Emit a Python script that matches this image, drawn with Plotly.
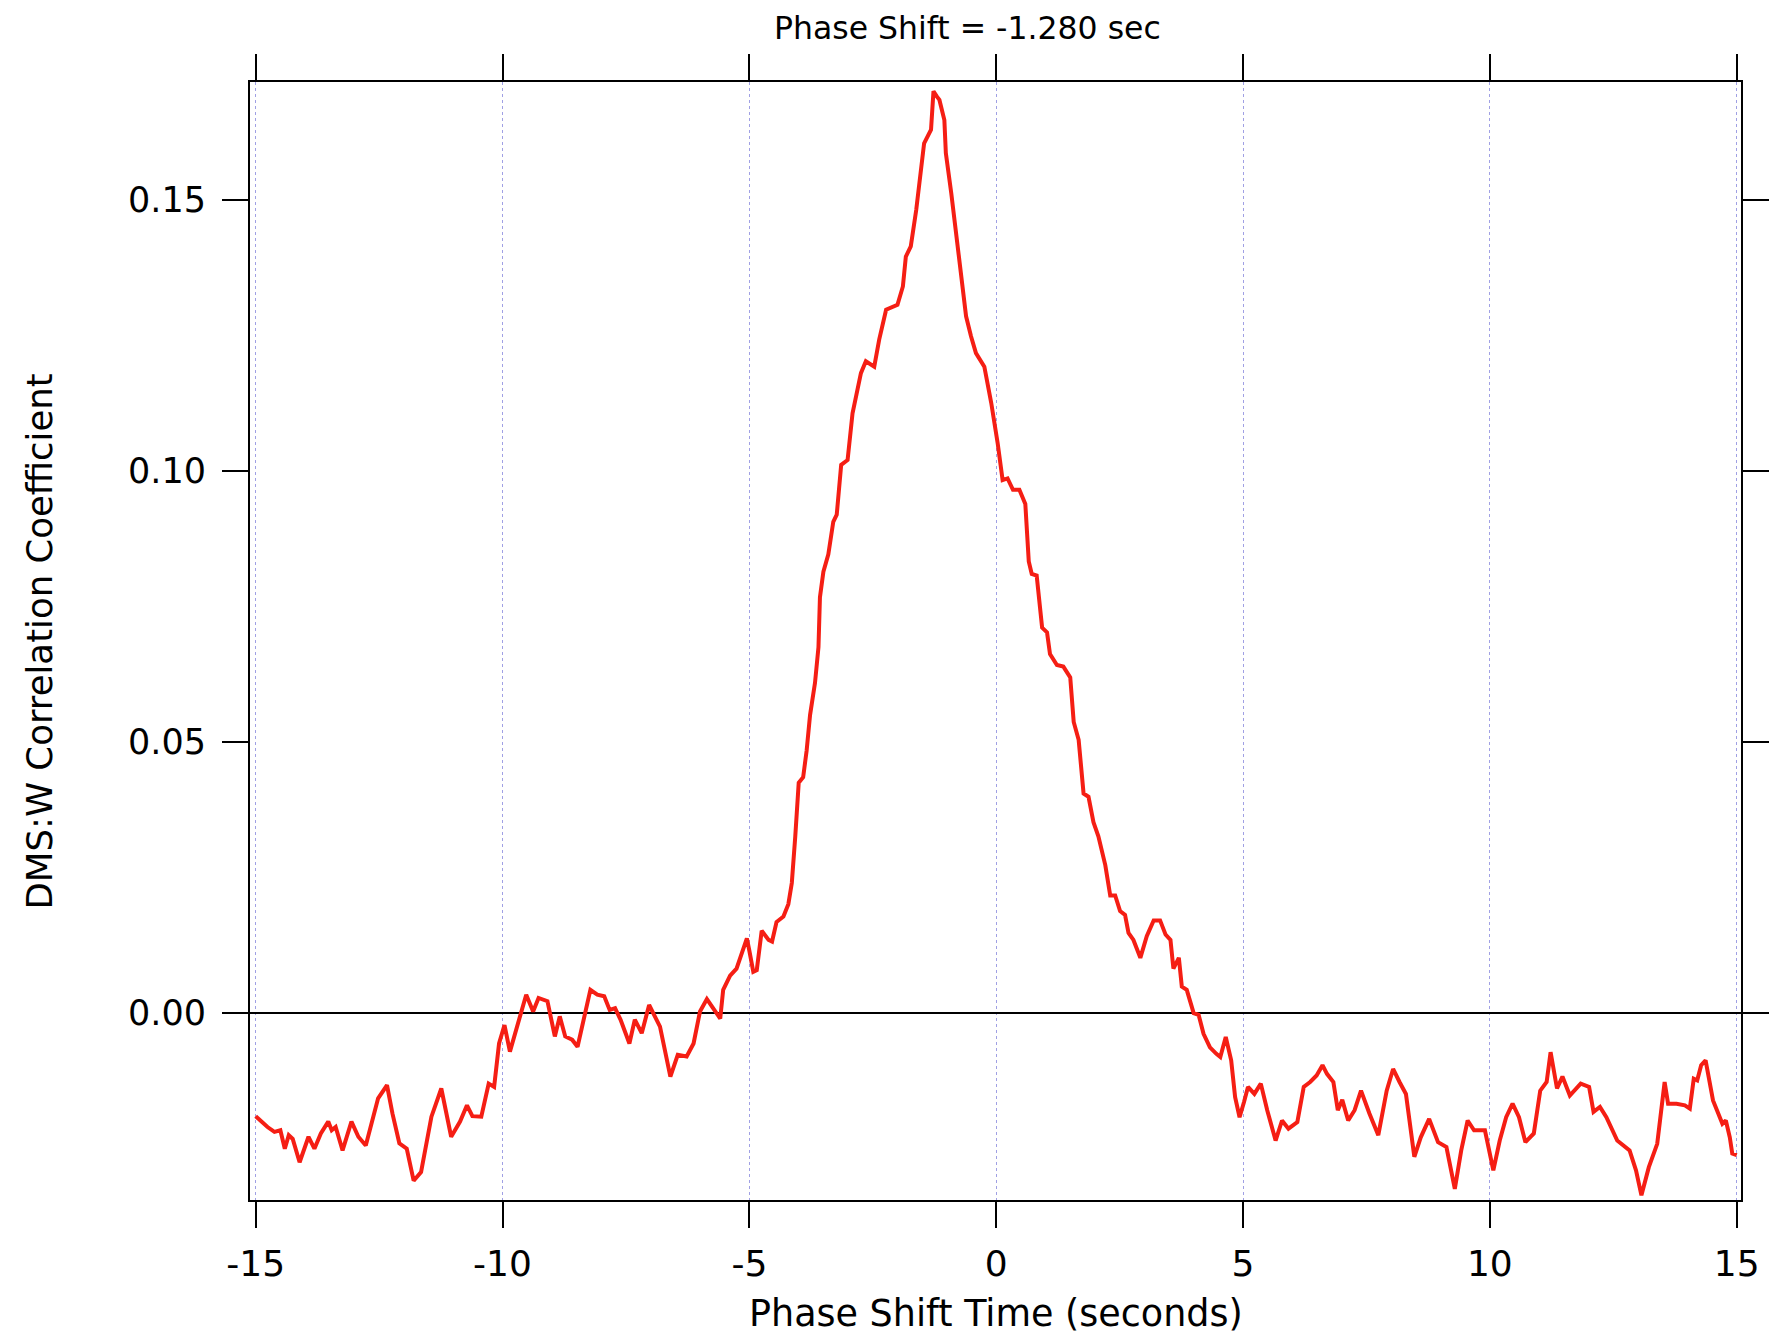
import plotly.graph_objects as go

# Phase shift time (seconds)
phase_shift = [
    -15.00, -14.76, -14.62, -14.50, -14.41, -14.33, -14.25, -14.11, -13.93, -13.81,
    -13.68, -13.53, -13.46, -13.38, -13.24, -13.06, -12.92, -12.77, -12.52, -12.34,
    -12.23, -12.09, -11.94, -11.80, -11.65, -11.44, -11.24, -11.04, -10.86, -10.72,
    -10.61, -10.43, -10.28, -10.17, -10.07, -9.96, -9.85, -9.70, -9.52, -9.38,
    -9.27, -9.09, -8.94, -8.84, -8.73, -8.59, -8.48, -8.22, -8.08, -7.94,
    -7.83, -7.72, -7.61, -7.43, -7.32, -7.18, -7.03, -6.81, -6.60, -6.45,
    -6.27, -6.13, -6.00, -5.86, -5.73, -5.59, -5.53, -5.39, -5.26, -5.16,
    -5.05, -5.00, -4.92, -4.85, -4.75, -4.61, -4.54, -4.45, -4.31, -4.21,
    -4.14, -4.07, -4.00, -3.91, -3.84, -3.77, -3.67, -3.60, -3.57, -3.50,
    -3.40, -3.30, -3.23, -3.14, -3.01, -2.91, -2.74, -2.64, -2.47, -2.37,
    -2.23, -2.00, -1.89, -1.83, -1.73, -1.62, -1.52, -1.46, -1.32, -1.27,
    -1.20, -1.15, -1.05, -1.02, -0.91, -0.78, -0.71, -0.61, -0.51, -0.41,
    -0.24, -0.10, 0.03, 0.13, 0.23, 0.34, 0.47, 0.59, 0.66, 0.72,
    0.82, 0.93, 1.03, 1.09, 1.23, 1.36, 1.50, 1.57, 1.67, 1.77,
    1.87, 1.97, 2.07, 2.21, 2.31, 2.41, 2.51, 2.61, 2.68, 2.78,
    2.92, 3.05, 3.19, 3.32, 3.43, 3.53, 3.59, 3.70, 3.76, 3.86,
    4.00, 4.10, 4.20, 4.33, 4.46, 4.54, 4.65, 4.76, 4.84, 4.93,
    5.02, 5.10, 5.23, 5.36, 5.49, 5.66, 5.79, 5.92, 6.10, 6.23,
    6.36, 6.49, 6.61, 6.70, 6.83, 6.92, 7.01, 7.13, 7.26, 7.39,
    7.56, 7.74, 7.91, 8.04, 8.17, 8.30, 8.47, 8.60, 8.77, 8.95,
    9.12, 9.29, 9.42, 9.55, 9.68, 9.90, 10.07, 10.20, 10.33, 10.46,
    10.59, 10.72, 10.89, 11.02, 11.15, 11.23, 11.36, 11.47, 11.62, 11.84,
    12.01, 12.10, 12.23, 12.36, 12.58, 12.83, 12.96, 13.07, 13.22, 13.39,
    13.54, 13.61, 13.78, 13.95, 14.05, 14.13, 14.20, 14.28, 14.37, 14.44,
    14.52, 14.60, 14.71, 14.78, 14.86, 14.91, 15.00,
]

# DMS:W correlation coefficient
correlation = [
    -0.0190, -0.0210, -0.0219, -0.0216, -0.0250, -0.0225, -0.0232, -0.0275, -0.0228, -0.0250,
    -0.0222, -0.0200, -0.0216, -0.0210, -0.0253, -0.0200, -0.0228, -0.0244, -0.0157, -0.0133,
    -0.0185, -0.0240, -0.0250, -0.0309, -0.0293, -0.0191, -0.0139, -0.0228, -0.0200, -0.0170,
    -0.0190, -0.0191, -0.0130, -0.0136, -0.0056, -0.0022, -0.0071, -0.0025, 0.0034, 0.0003,
    0.0028, 0.0022, -0.0043, -0.0006, -0.0043, -0.0049, -0.0062, 0.0043, 0.0034, 0.0031,
    0.0006, 0.0009, -0.0012, -0.0056, -0.0012, -0.0037, 0.0015, -0.0025, -0.0117, -0.0077,
    -0.0080, -0.0056, 0.0003, 0.0026, 0.0010, -0.0010, 0.0043, 0.0069, 0.0082, 0.0109,
    0.0138, 0.0115, 0.0076, 0.0079, 0.0152, 0.0135, 0.0132, 0.0168, 0.0178, 0.0201,
    0.0240, 0.0326, 0.0425, 0.0435, 0.0484, 0.0550, 0.0609, 0.0675, 0.0767, 0.0814,
    0.0846, 0.0906, 0.0919, 0.1011, 0.1020, 0.1106, 0.1180, 0.1202, 0.1192, 0.1242,
    0.1297, 0.1306, 0.1340, 0.1395, 0.1414, 0.1481, 0.1555, 0.1604, 0.1629, 0.1700,
    0.1690, 0.1684, 0.1647, 0.1586, 0.1512, 0.1414, 0.1352, 0.1285, 0.1248, 0.1217,
    0.1192, 0.1125, 0.1051, 0.0983, 0.0986, 0.0965, 0.0965, 0.0939, 0.0833, 0.0810,
    0.0807, 0.0711, 0.0702, 0.0662, 0.0642, 0.0639, 0.0619, 0.0537, 0.0504, 0.0405,
    0.0399, 0.0352, 0.0326, 0.0273, 0.0217, 0.0217, 0.0188, 0.0181, 0.0148, 0.0135,
    0.0102, 0.0142, 0.0171, 0.0171, 0.0145, 0.0135, 0.0082, 0.0102, 0.0049, 0.0043,
    0.0000, -0.0003, -0.0038, -0.0063, -0.0075, -0.0081, -0.0044, -0.0087, -0.0155, -0.0192,
    -0.0164, -0.0136, -0.0149, -0.0130, -0.0179, -0.0235, -0.0198, -0.0213, -0.0201, -0.0136,
    -0.0127, -0.0115, -0.0096, -0.0112, -0.0127, -0.0179, -0.0160, -0.0198, -0.0179, -0.0143,
    -0.0185, -0.0225, -0.0143, -0.0103, -0.0127, -0.0149, -0.0265, -0.0229, -0.0195, -0.0238,
    -0.0247, -0.0324, -0.0253, -0.0198, -0.0216, -0.0216, -0.0290, -0.0235, -0.0192, -0.0167,
    -0.0192, -0.0238, -0.0222, -0.0143, -0.0127, -0.0072, -0.0139, -0.0117, -0.0152, -0.0130,
    -0.0136, -0.0182, -0.0173, -0.0192, -0.0235, -0.0253, -0.0290, -0.0336, -0.0284, -0.0241,
    -0.0127, -0.0167, -0.0167, -0.0170, -0.0176, -0.0121, -0.0124, -0.0096, -0.0087, -0.0118,
    -0.0161, -0.0179, -0.0204, -0.0198, -0.0229, -0.0259, -0.0262,
]

x_ticks = [-15, -10, -5, 0, 5, 10, 15]
x_tick_labels = ["-15", "-10", "-5", "0", "5", "10", "15"]
y_ticks = [0.00, 0.05, 0.10, 0.15]
y_tick_labels = ["0.00", "0.05", "0.10", "0.15"]

title_text = "Phase Shift = -1.280 sec"
x_title = "Phase Shift Time (seconds)"
y_title = "DMS:W Correlation Coefficient"

FONT = "DejaVu Sans"

fig = go.Figure()
fig.add_trace(go.Scatter(
    x=phase_shift, y=correlation, mode="lines",
    line=dict(color="rgb(245,30,20)", width=4),
    showlegend=False, hoverinfo="skip",
))

axis_common = dict(
    showline=True, linecolor="black", linewidth=2, mirror="ticks",
    ticks="outside", ticklen=26, tickwidth=2, tickcolor="black",
    automargin=False,
)

fig.update_xaxes(
    range=[-15.115, 15.087], tickvals=x_ticks, ticktext=x_tick_labels,
    showgrid=True, gridcolor="rgba(150,150,225,0.9)", gridwidth=1, griddash="dot",
    zeroline=False, ticklabelstandoff=5,
    tickfont=dict(family=FONT, size=36, color="black"),
    **axis_common,
)
fig.update_yaxes(
    range=[-0.03446, 0.1717], tickvals=y_ticks, ticktext=y_tick_labels,
    showgrid=False, zeroline=True, zerolinecolor="black", zerolinewidth=2,
    ticklabelstandoff=9,
    tickfont=dict(family=FONT, size=35, color="black"),
    **axis_common,
)

fig.update_layout(
    width=1771, height=1339,
    margin=dict(l=250, r=30, t=82, b=139),
    paper_bgcolor="white", plot_bgcolor="white",
    annotations=[
        dict(text=title_text, xref="paper", yref="paper", x=0.481, y=1.0483,
             xanchor="center", yanchor="middle", showarrow=False,
             font=dict(family=FONT, size=31.5, color="black")),
        dict(text=x_title, xref="paper", yref="paper", x=0.5, y=-0.1016,
             xanchor="center", yanchor="middle", showarrow=False,
             font=dict(family=FONT, size=36.5, color="black")),
        dict(text=y_title, xref="paper", yref="paper", x=-0.1412, y=0.5,
             xanchor="center", yanchor="middle", showarrow=False, textangle=-90,
             font=dict(family=FONT, size=35.5, color="black")),
    ],
)

fig.write_html(
    "out.html",
    config={"displayModeBar": False},
    post_script="document.documentElement.style.margin='0';"
                "document.body.style.margin='0';"
                "document.body.style.overflow='hidden';",
)
